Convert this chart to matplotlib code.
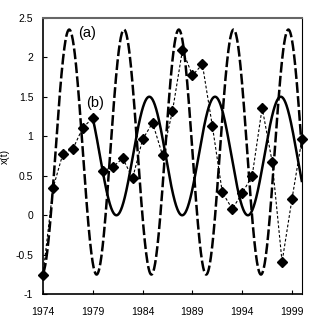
import numpy as np
import matplotlib
matplotlib.use("Agg")
import matplotlib.pyplot as plt

plt.rcParams['font.family'] = ['Liberation Sans', 'DejaVu Sans']

# Observed yearly values (diamonds)
years = list(range(1974, 2001))
observed = [-0.75, 0.34, 0.78, 0.84, 1.11, 1.23, 0.56, 0.61, 0.72, 0.47,
            0.96, 1.17, 0.76, 1.32, 2.09, 1.77, 1.91, 1.13, 0.29, 0.08,
            0.28, 0.50, 1.36, 0.68, -0.59, 0.21, 0.97]

# Fitted sinusoid (a): mean, amplitude, period, time of trough, start/end
a_mean, a_amp, a_period, a_trough = 0.80, 1.55, 5.50, 1973.88
a_start, a_end = 1974.0, 2000.0
# Fitted sinusoid (b): mean, amplitude, period, time of peak, start/end
b_mean, b_amp, b_period, b_peak = 0.75, 0.75, 6.60, 1984.67
b_start, b_end = 1979.0, 2000.0

xticks = [1974, 1979, 1984, 1989, 1994, 1999]
yticks = [-1, -0.5, 0, 0.5, 1, 1.5, 2, 2.5]
ytick_labels = ['-1', '-0.5', '0', '0.5', '1', '1.5', '2', '2.5']

fig = plt.figure(figsize=(3.27, 3.27), dpi=100)
ax = fig.add_axes([43/327, 1 - 294.3/327, (302 - 43)/327, (294.3 - 17.7)/327])

ta = np.linspace(a_start, a_end, 800)
ya = a_mean - a_amp * np.cos(2 * np.pi * (ta - a_trough) / a_period)
tb = np.linspace(b_start, b_end, 800)
yb = b_mean + b_amp * np.cos(2 * np.pi * (tb - b_peak) / b_period)

ax.plot(ta, ya, color='black', lw=1.8, linestyle=(0, (4.3, 1.3)), zorder=2)
ax.plot(tb, yb, color='black', lw=1.8, solid_capstyle='butt', zorder=3)
ax.plot(years, observed, color='black', lw=0.8, linestyle=(0, (2.5, 1.8)),
        marker='D', ms=4.8, mfc='black', mec='black', zorder=4, clip_on=False)

ax.text(1978.4, 2.31, '(a)', fontsize=10.5, ha='center', va='center')
ax.text(1979.2, 1.42, '(b)', fontsize=10.5, ha='center', va='center')

ax.set_xlim(1974, 2000)
ax.set_ylim(-1, 2.5)
ax.set_xticks(xticks)
ax.set_xticklabels([str(x) for x in xticks])
ax.set_yticks(yticks)
ax.set_yticklabels(ytick_labels)
ax.tick_params(direction='in', length=3, width=0.8, labelsize=7.5, colors='black')
ax.tick_params(axis='y', pad=7)
ax.tick_params(axis='x', pad=9)
ax.set_ylabel('x(t)', fontsize=7.5, labelpad=4)

ax.spines['left'].set_linewidth(1.2)
ax.spines['bottom'].set_linewidth(1.2)
ax.spines['top'].set_linewidth(1.5)
ax.spines['top'].set_color('#666666')
ax.spines['right'].set_linewidth(0.8)

fig.savefig('out.png', dpi=100)
